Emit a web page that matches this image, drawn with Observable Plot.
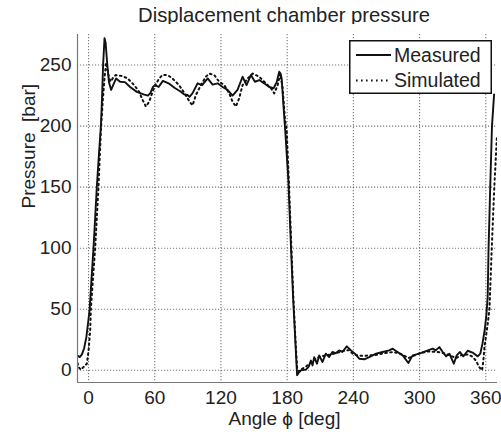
<!DOCTYPE html>
<html><head><meta charset="utf-8">
<script src="https://cdn.jsdelivr.net/npm/d3@7"></script>
<script src="https://cdn.jsdelivr.net/npm/@observablehq/plot@0.6"></script>
<style>
body{margin:0;background:#fff;font-family:"Liberation Sans",Arial,sans-serif;}
#wrap{position:relative;width:501px;height:435px;overflow:hidden;}
#title{position:absolute;left:0;top:3px;width:568px;text-align:center;font-size:20.3px;line-height:24px;color:#222;}
#chart{position:absolute;left:0;top:24px;}
#legend{position:absolute;left:349px;top:40px;}
</style></head>
<body><div id="wrap"><div id="title">Displacement chamber pressure</div><div id="chart"></div><svg id="legend" width="143" height="54"></svg></div>
<script>
const title = "Displacement chamber pressure";
const xLabel = "Angle \u03D5 [deg]";
const yLabel = "Pressure\u00A0 [bar]";
const seriesNames = ["Measured", "Simulated"];
const xTicks = [0, 60, 120, 180, 240, 300, 360];
const yTicks = [0, 50, 100, 150, 200, 250];

const measuredAngle = [-10,-8,-6,-4,-2,0,1,2.5,4.5,6,7.5,9.5,11.2,12.2,13.2,14.5,15.5,17,18.5,20.5,22.5,25,28.6,33,37.7,43.8,49.8,53.8,56,58.3,60.4,63.5,67.4,72.5,78.5,83,86.5,89.7,91.5,94.3,98.8,103,108,112.4,117,121.5,126,130.5,135,139.6,143.2,147.1,150.8,154.7,159.2,163.7,167.7,170.5,172.8,174,175,176.8,178.3,181,183.5,185.5,186.5,188,189,190.5,192.5,197,199.5,201.5,203,204.5,207,209,212,215,218,221,224,227,230,234,237.8,241.4,245.3,249.9,254.4,260.5,266.5,272.5,275.6,280,284.7,289.8,293.7,299.7,305.8,311.9,314.6,317.9,321,324,327,331,333.6,336.6,339.6,343.6,348,352.7,355,357,359,360.5,361.7,362.5,364,365.6,367.5];
const measuredP = [12,10.8,13,18,27,42,50,72,100,125,150,178,200,222,250,272,268,250,236,229.6,234,239,236.3,236,232,228,226,225,227,232,233.6,232,237,235,231,228.5,226,225.5,224,227,235,233.6,239,234,235,232,229.6,225,229.6,240.4,233.6,241.8,236.3,237.7,235,232,231,236,244.5,243,239,214.6,195.6,157,100,57,40,13,-4,-2,0,0.5,3,8,4,10.8,5.4,12.2,6.8,13.6,10.8,15,14,16.3,15,19.6,16.3,13.6,9.5,9,10.8,13.6,15,16.3,17.7,15,12.2,6,12.2,13.6,15.7,17.7,16.3,19,15,11.4,13.6,5.4,12.2,15,11.4,16,14.5,11.4,13.6,22,33,45,60,100,150,200,226];

const simulatedAngle = [-10,-8.5,-7,-4.5,-1.5,0,1.5,2.1,4,6,7.5,9,10.2,11.4,13,14.5,16,17,18.7,20.2,22.5,24.7,30.8,35.4,41.4,45.9,49,52,55,58,60.7,64,67,71.6,76,82,88,91.5,94.3,97.3,101.8,106.3,109.3,113.9,118.4,123,127.5,130.5,133.5,136.5,139.6,144.2,148.7,154.7,160.7,165.3,168.3,171.4,173.7,175.9,178,179.6,181.5,183.5,185.5,187.5,189,190.5,193,197,201,205,209,214,220,226,232,236,240,245,252,260,268,276,281,285,290,295,300,308,316,322,328,333,338,344,348,351,354,356.6,357.8,358.8,360.5,362,363.3,365.4,367.7,370];
const simulatedP = [6,2,0.5,2.7,5.4,16,32.6,50,75,100,125,150,175,200,222,240,252,247,239,236.5,240,241.8,241,239,233.6,228,221.4,216,220,228,234,239,241.8,241.8,239,233.6,225.5,220,217,225.5,233.6,240.4,243,241.8,236.3,233.6,226.8,220,216,222.7,233.6,239,243,240.4,235,231,226.8,233.6,243,231,206,195.6,155,108,62,25,2,-1,1,3,6,9,11,12,13,14.5,16,16.5,13,12,12,12.5,14,15,14,12.5,10,12,14,15.5,15,14,12,10,12.5,13,11,8,2.7,0,8,19,30,40,50,100,150,190];

const measured = measuredAngle.map((a, i) => ({angle: a, p: measuredP[i]}));
const simulated = simulatedAngle.map((a, i) => ({angle: a, p: simulatedP[i]}));

const FS = 19;
const gridStyle = {stroke: "#333", strokeWidth: 1.1, strokeOpacity: 0.65, strokeDasharray: "1.2,1.8"};

const chart = Plot.plot({
  width: 501, height: 411,
  marginLeft: 77, marginRight: 4, marginTop: 10, marginBottom: 53,
  style: {fontFamily: '"Liberation Sans", Arial, sans-serif', fontSize: FS + "px", color: "#222", background: "#fff"},
  x: {domain: [-10, 370.6], label: null},
  y: {domain: [-10, 275], label: null},
  marks: [
    Plot.ruleX(xTicks, {x: d => d, ...gridStyle}),
    Plot.ruleY(yTicks, {y: d => d, ...gridStyle}),
    Plot.line(simulated, {x: "angle", y: "p", stroke: "#111", strokeWidth: 2, strokeDasharray: "1.6,3.4", clip: true}),
    Plot.line(measured, {x: "angle", y: "p", stroke: "#111", strokeWidth: 1.9, clip: true}),
    Plot.ruleX([-10], {stroke: "#777", strokeWidth: 1.2}),
    Plot.ruleY([-10], {stroke: "#777", strokeWidth: 1.2}),
    Plot.axisX({ticks: xTicks, tickSize: 0, tickPadding: 8, fontSize: FS, label: null}),
    Plot.axisY({ticks: yTicks, tickSize: 0, tickPadding: 6, fontSize: FS, label: null}),
    Plot.text([xLabel], {frameAnchor: "bottom", dy: 42, dx: -3, text: d => d, fontSize: FS, fill: "#222"}),
    Plot.text([yLabel], {frameAnchor: "left", dx: -49, rotate: -90, text: d => d, fontSize: FS, fill: "#222"})
  ]
});
document.getElementById("chart").appendChild(chart);

// legend
const lg = d3.select("#legend");
lg.append("rect").attr("x", 0.75).attr("y", 0.75).attr("width", 141.5).attr("height", 52.5)
  .attr("fill", "#fff").attr("stroke", "#111").attr("stroke-width", 1.5);
const rows = [{y: 15, dash: null}, {y: 40.5, dash: "1.6,3.4"}];
rows.forEach((r, i) => {
  const l = lg.append("line").attr("x1", 7).attr("x2", 42).attr("y1", r.y).attr("y2", r.y)
    .attr("stroke", "#111").attr("stroke-width", 2);
  if (r.dash) l.attr("stroke-dasharray", r.dash);
  lg.append("text").attr("x", 45).attr("y", r.y).attr("dy", "0.35em")
    .attr("font-size", 19.5).attr("fill", "#222").text(seriesNames[i]);
});
</script></body></html>
